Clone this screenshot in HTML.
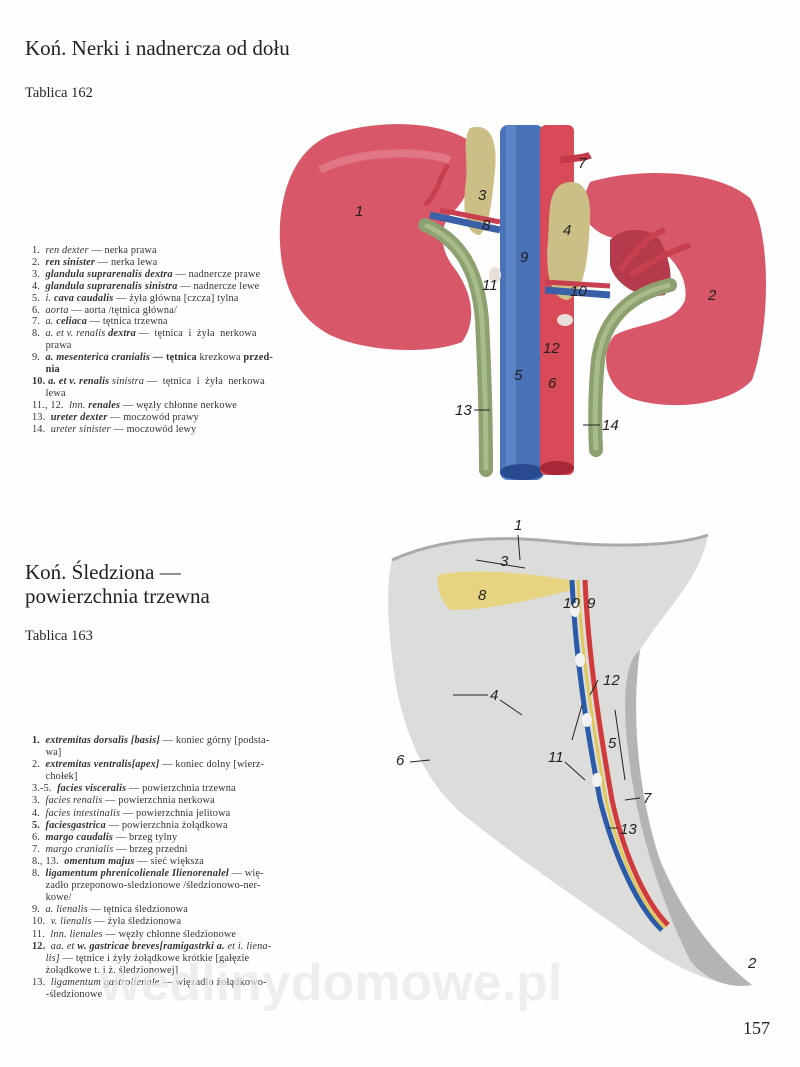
<!DOCTYPE html>
<html><head><meta charset="utf-8"><style>
body{margin:0;background:#fff;}
#p{position:relative;width:800px;height:1067px;overflow:hidden;background:#fefefe;font-family:"Liberation Serif",serif;color:#222;}
.t{position:absolute;white-space:nowrap;}
.lg{position:absolute;font-size:10.3px;line-height:11.9px;color:#333;letter-spacing:0.15px;}
.lg div{white-space:nowrap;}
.lg2{line-height:12.1px;}
</style></head><body><div id="p">
<div class="t" style="left:25px;top:36px;font-size:21px;">Koń. Nerki i nadnercza od dołu</div>
<div class="t" style="left:25px;top:85px;font-size:14.5px;">Tablica 162</div>
<div class="t" style="left:25px;top:560px;font-size:21px;line-height:24px;">Koń. Śledziona —<br>powierzchnia trzewna</div>
<div class="t" style="left:25px;top:628px;font-size:14.5px;">Tablica 163</div>
<div class="t" style="left:743px;top:1018px;font-size:18px;">157</div>

<div class="lg" style="left:32px;top:245px;">
<div>1. &nbsp;<i>ren dexter</i> — nerka prawa</div>
<div>2. &nbsp;<b><i>ren sinister</i></b> — nerka lewa</div>
<div>3. &nbsp;<b><i>glandula suprarenalis dextra</i></b> — nadnercze prawe</div>
<div>4. &nbsp;<b><i>glandula suprarenalis sinistra</i></b> — nadnercze lewe</div>
<div>5. &nbsp;<i>i. <b>cava caudalis</b></i> — żyła główna [czcza] tylna</div>
<div>6. &nbsp;<i>aorta</i> — aorta /tętnica główna/</div>
<div>7. &nbsp;<i>a. <b>celiaca</b></i> — tętnica trzewna</div>
<div>8. &nbsp;<i>a. et v. renalis <b>dextra</b></i> — &nbsp;tętnica &nbsp;i &nbsp;żyła &nbsp;nerkowa</div>
<div>&nbsp;&nbsp;&nbsp;&nbsp;&nbsp;prawa</div>
<div>9. &nbsp;<b><i>a. mesenterica cranialis</i> — tętnica</b> krezkowa <b>przed-</b></div>
<div>&nbsp;&nbsp;&nbsp;&nbsp;&nbsp;<b>nia</b></div>
<div><b>10.</b> <b><i>a. et v. renalis</i></b> <i>sinistra</i> — &nbsp;tętnica &nbsp;i &nbsp;żyła &nbsp;nerkowa</div>
<div>&nbsp;&nbsp;&nbsp;&nbsp;&nbsp;lewa</div>
<div>11., 12. &nbsp;<i>lnn. <b>renales</b></i> — węzły chłonne nerkowe</div>
<div>13. &nbsp;<b><i>ureter dexter</i></b> — moczowód prawy</div>
<div>14. &nbsp;<i>ureter sinister</i> — moczowód lewy</div>
</div>

<div class="lg lg2" style="left:32px;top:735px;">
<div><b>1.</b> &nbsp;<b><i>extremitas dorsalis [basis]</i></b> — koniec górny [podsta-</div>
<div>&nbsp;&nbsp;&nbsp;&nbsp;&nbsp;wa]</div>
<div>2. &nbsp;<b><i>extremitas ventralis[apex]</i></b> — koniec dolny [wierz-</div>
<div>&nbsp;&nbsp;&nbsp;&nbsp;&nbsp;chołek]</div>
<div>3.-5. &nbsp;<b><i>facies visceralis</i></b> — powierzchnia trzewna</div>
<div>3. &nbsp;<i>facies renalis</i> — powierzchnia nerkowa</div>
<div>4. &nbsp;<i>facies intestinalis</i> — powierzchnia jelitowa</div>
<div><b>5.</b> &nbsp;<b><i>faciesgastrica</i></b> — powierzchnia żołądkowa</div>
<div>6. &nbsp;<b><i>margo caudalis</i></b> — brzeg tylny</div>
<div>7. &nbsp;<i>margo cranialis</i> — brzeg przedni</div>
<div>8., 13. &nbsp;<b><i>omentum majus</i></b> — sieć większa</div>
<div>8. &nbsp;<b><i>ligamentum phrenicolienale Ilienorenalel</i></b> — wię-</div>
<div>&nbsp;&nbsp;&nbsp;&nbsp;&nbsp;zadło przeponowo-sledzionowe /śledzionowo-ner-</div>
<div>&nbsp;&nbsp;&nbsp;&nbsp;&nbsp;kowe/</div>
<div>9. &nbsp;<i>a. lienalis</i> — tętnica śledzionowa</div>
<div>10. &nbsp;<i>v. lienalis</i> — żyła śledzionowa</div>
<div>11. &nbsp;<i>lnn. lienales</i> — węzły chłonne śledzionowe</div>
<div><b>12.</b> &nbsp;<i>aa. et <b>w. gastricae breves[ramigastrki a.</b> et i. liena-</i></div>
<div>&nbsp;&nbsp;&nbsp;&nbsp;&nbsp;<i>lis]</i> — tętnice i żyły żołądkowe krótkie [gałęzie</div>
<div>&nbsp;&nbsp;&nbsp;&nbsp;&nbsp;żołądkowe t. i ż. śledzionowej]</div>
<div>13. &nbsp;<i>ligamentum gastrolienale</i> — więzadlo żołądkowo-</div>
<div>&nbsp;&nbsp;&nbsp;&nbsp;&nbsp;-śledzionowe</div>
</div>

<svg style="position:absolute;left:0;top:0" width="800" height="1067" viewBox="0 0 800 1067">
<!-- kidney 1 -->
<path d="M330,135 C380,118 440,122 468,140 C478,165 470,195 455,210 C440,222 438,245 452,265 C472,290 478,320 462,342 C430,355 365,352 330,335 C292,315 278,275 280,225 C283,180 300,148 330,135Z" fill="#d8586a"/>
<path d="M320,170 C360,150 420,150 450,160" stroke="#e88a98" stroke-width="8" fill="none" opacity=".6"/>
<!-- kidney 2 -->
<path d="M590,182 C635,168 715,168 750,198 C772,235 770,330 752,380 C730,405 670,412 630,398 C603,385 600,350 615,335 C640,322 675,325 685,300 C690,270 660,240 630,240 C605,240 585,228 580,205Z" fill="#d8586a"/>
<path d="M610,240 C625,225 650,228 660,240 C670,260 675,280 665,295 C640,300 615,285 610,265Z" fill="#b43a4c"/>
<path d="M620,270 C640,245 650,235 665,230 M630,275 C650,262 670,252 690,245" stroke="#c84050" stroke-width="6" fill="none"/>
<!-- vena cava & aorta -->
<rect x="500" y="125" width="44" height="355" rx="8" fill="#4a72b8"/>
<rect x="506" y="125" width="10" height="355" fill="#6a90d0" opacity=".6"/>
<ellipse cx="522" cy="472" rx="22" ry="8" fill="#2a4a90"/>
<rect x="540" y="125" width="34" height="350" rx="6" fill="#d84a58"/>
<ellipse cx="557" cy="468" rx="17" ry="7" fill="#a82838"/>
<path d="M560,160 C575,158 585,158 590,155" stroke="#c43a48" stroke-width="7" fill="none"/>
<!-- adrenals -->
<path d="M470,128 C490,122 498,140 495,170 C492,200 490,225 480,235 C465,235 462,210 466,180 C468,160 462,140 470,128Z" fill="#cbbf86"/>
<path d="M560,185 C580,175 592,190 590,220 C588,260 585,290 568,300 C550,300 545,270 548,240 C550,210 548,195 560,185Z" fill="#cbbf86"/>
<path d="M430,215 L500,230" stroke="#3a60a8" stroke-width="7"/>
<path d="M425,205 C440,190 440,175 448,165 M440,210 L500,222" stroke="#c84050" stroke-width="5" fill="none"/>
<path d="M545,290 L610,295" stroke="#3a60a8" stroke-width="7"/>
<path d="M545,282 L610,286" stroke="#c84050" stroke-width="5"/>
<!-- ureters -->
<path d="M425,225 C460,240 478,270 482,320 C485,380 486,430 486,470" stroke="#8ca070" stroke-width="14" fill="none" stroke-linecap="round"/>
<path d="M425,225 C460,240 478,270 482,320 C485,380 486,430 486,470" stroke="#a8bc8a" stroke-width="5" fill="none"/>
<path d="M670,285 C640,292 605,310 598,360 C594,400 595,430 596,450" stroke="#8ca070" stroke-width="14" fill="none" stroke-linecap="round"/>
<path d="M670,285 C640,292 605,310 598,360 C594,400 595,430 596,450" stroke="#a8bc8a" stroke-width="5" fill="none"/>
<ellipse cx="495" cy="275" rx="6" ry="8" fill="#e8e0d8"/>
<ellipse cx="565" cy="320" rx="8" ry="6" fill="#e8e0d8"/>
<g font-family="Liberation Sans,sans-serif" font-style="italic" font-size="15" fill="#222">
<text x="355" y="216">1</text><text x="708" y="300">2</text><text x="478" y="200">3</text><text x="563" y="235">4</text>
<text x="514" y="380">5</text><text x="548" y="388">6</text><text x="578" y="168">7</text><text x="482" y="230">8</text>
<text x="520" y="262">9</text><text x="570" y="296">10</text><text x="482" y="290">11</text><text x="543" y="353">12</text>
<text x="455" y="415">13</text><text x="602" y="430">14</text>
</g>
<g stroke="#222" stroke-width="1"><line x1="474" y1="410" x2="490" y2="410"/><line x1="583" y1="425" x2="600" y2="425"/></g>

<!-- spleen -->
<path d="M392,560 C440,538 500,535 560,542 C620,548 680,545 708,535 C700,580 665,610 640,650 C630,720 640,800 660,860 C685,920 720,960 752,985 C730,990 690,975 650,950 C580,900 520,860 470,820 C430,790 405,740 395,680 C388,630 385,590 392,560Z" fill="#dcdcda"/>
<path d="M640,650 C630,720 640,800 660,860 C685,920 720,960 752,985 C725,990 700,975 690,960 C660,900 635,820 628,750 C622,700 625,660 640,650Z" fill="#b4b4b2"/>
<path d="M392,560 C440,538 500,535 560,542 C620,548 680,545 708,535" stroke="#aaa" stroke-width="3" fill="none"/>
<path d="M438,575 C470,568 520,572 570,580 L572,590 C530,600 490,610 450,610 C440,600 436,585 438,575Z" fill="#e6d482"/>
<path d="M572,580 C575,650 585,720 600,800 C615,860 640,910 662,930" stroke="#2a5aa8" stroke-width="5" fill="none"/>
<path d="M585,580 C588,650 598,720 612,800 C625,860 648,905 668,925" stroke="#d03a3a" stroke-width="5" fill="none"/>
<path d="M578,580 C581,650 592,720 606,800 C620,860 644,908 665,928" stroke="#e0c858" stroke-width="3" fill="none"/>
<g fill="#f2f2f2"><ellipse cx="575" cy="610" rx="5" ry="7"/><ellipse cx="580" cy="660" rx="5" ry="7"/><ellipse cx="587" cy="720" rx="5" ry="7"/><ellipse cx="597" cy="780" rx="5" ry="7"/></g>
<g font-family="Liberation Sans,sans-serif" font-style="italic" font-size="15" fill="#222">
<text x="514" y="530">1</text><text x="748" y="968">2</text><text x="500" y="566">3</text><text x="490" y="700">4</text>
<text x="608" y="748">5</text><text x="396" y="765">6</text><text x="643" y="803">7</text><text x="478" y="600">8</text>
<text x="587" y="608">9</text><text x="563" y="608">10</text><text x="548" y="762">11</text><text x="603" y="685">12</text><text x="620" y="834">13</text>
</g>
<g stroke="#222" stroke-width="1" fill="none">
<line x1="518" y1="535" x2="520" y2="560"/><line x1="476" y1="560" x2="525" y2="568"/>
<line x1="453" y1="695" x2="488" y2="695"/><line x1="500" y1="700" x2="522" y2="715"/>
<line x1="410" y1="762" x2="430" y2="760"/><line x1="625" y1="800" x2="640" y2="798"/>
<line x1="615" y1="710" x2="625" y2="780"/><line x1="572" y1="740" x2="582" y2="705"/>
<line x1="565" y1="762" x2="585" y2="780"/><line x1="598" y1="680" x2="590" y2="695"/>
<line x1="608" y1="828" x2="618" y2="828"/>
</g>
<text x="100" y="1000" font-family="Liberation Sans,sans-serif" font-weight="bold" font-size="52" fill="#e8e8e8" opacity=".7">wedlinydomowe.pl</text>
</svg>
</div></body></html>
